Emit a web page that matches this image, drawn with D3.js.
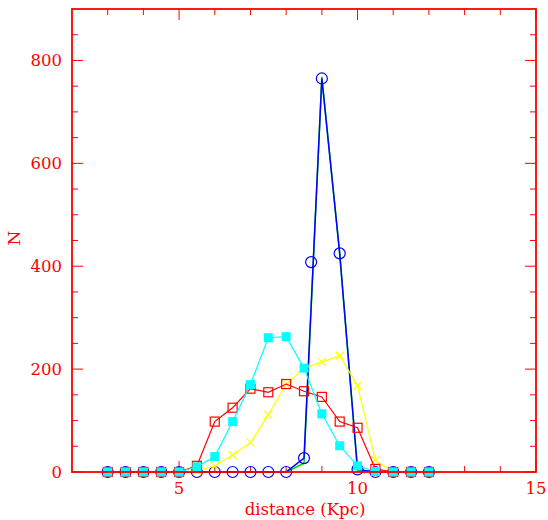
<!DOCTYPE html>
<html>
<head>
<meta charset="utf-8">
<script src="https://cdn.jsdelivr.net/npm/d3@7"></script>
<style>
  html, body { margin: 0; padding: 0; background: #fff; }
  svg { display: block; }
</style>
</head>
<body>
<svg id="chart" width="548" height="520"></svg>
<script>
// ---- data ----
const distances = [3, 3.5, 4, 4.5, 5, 5.5, 6, 6.5, 7, 7.5, 8, 8.5, 9, 9.5, 10, 10.5, 11, 11.5, 12];
const nRed    = [0, 0, 0, 0, 0, 12, 98, 125, 162, 155, 171, 157, 146, 98, 86, 6, 0, 0, 0];
const nYellow = [0, 0, 0, 0, 0, 2, 12, 33, 57, 111, 170, 202, 214, 226, 168, 23, 0, 0, 0];
const nCyan   = [0, 0, 0, 0, 0, 10, 30, 98, 170, 261, 263, 202, 113, 51, 12, 1, 0, 0, 0];
const nGreen  = [0, 0, 0, 0, 0, 0, 0, 0, 0, 0, 0, 17, 768, 425, 3, 0, 0, 0, 0];
const nBlue   = [0, 0, 0, 0, 0, 0, 0, 0, 0, 0, 0, 27, 765, 425, 5, 0, 0, 0, 0];
// blue circle markers (one extra point near the rising edge)
const xBlueMarks = [3, 3.5, 4, 4.5, 5, 5.5, 6, 6.5, 7, 7.5, 8, 8.5, 8.7, 9, 9.5, 10, 10.5, 11, 11.5, 12];
const nBlueMarks = [0, 0, 0, 0, 0, 0, 0, 0, 0, 0, 0, 27, 408, 765, 425, 5, 0, 0, 0, 0];
const xMajorTicks = [5, 10, 15];
const yMajorTicks = [0, 200, 400, 600, 800];
const xLabel = "distance (Kpc)";
const yLabel = "N";

// ---- layout ----
const svg = d3.select("#chart");
const L = 72, R = 536, T = 9, B = 472;
const x = d3.scaleLinear().domain([2, 15]).range([L, R]);
const y = d3.scaleLinear().domain([0, 900]).range([B, T]);
const axisColor = "#ff0000";
const font = "'DejaVu Serif', serif";

const g = svg.append("g");

// ticks (inward on all sides)
const xMinor = d3.range(3, 15, 1).filter(v => !xMajorTicks.includes(v));
const yMinor = d3.range(50, 900, 50).filter(v => !yMajorTicks.includes(v));
const ticks = g.append("g").attr("stroke", axisColor).attr("stroke-width", 1);
function xt(vals, len) {
  vals.forEach(v => {
    ticks.append("line").attr("x1", x(v)).attr("x2", x(v)).attr("y1", B).attr("y2", B - len);
    ticks.append("line").attr("x1", x(v)).attr("x2", x(v)).attr("y1", T).attr("y2", T + len);
  });
}
function yt(vals, len) {
  vals.forEach(v => {
    ticks.append("line").attr("y1", y(v)).attr("y2", y(v)).attr("x1", L).attr("x2", L + len);
    ticks.append("line").attr("y1", y(v)).attr("y2", y(v)).attr("x1", R).attr("x2", R - len);
  });
}
xt(xMinor, 6); xt(xMajorTicks, 11);
yt(yMinor, 6); yt(yMajorTicks, 11);

// tick labels
g.append("g").selectAll("text").data(xMajorTicks).join("text")
  .attr("x", d => x(d)).attr("y", 494)
  .attr("text-anchor", "middle")
  .attr("fill", axisColor).attr("font-family", font).attr("font-size", 16.5)
  .text(d => d);
g.append("g").selectAll("text").data(yMajorTicks).join("text")
  .attr("x", 62).attr("y", d => y(d) + 6)
  .attr("text-anchor", "end")
  .attr("fill", axisColor).attr("font-family", font).attr("font-size", 16.5)
  .text(d => d);

// axis titles
g.append("text").attr("x", 305).attr("y", 515).attr("text-anchor", "middle")
  .attr("fill", axisColor).attr("font-family", font).attr("font-size", 16.5).text(xLabel);
g.append("text").attr("transform", "translate(20,238) rotate(-90)").attr("text-anchor", "middle")
  .attr("fill", axisColor).attr("font-family", font).attr("font-size", 17).text(yLabel);

// ---- series ----
const line = d3.line().x(d => x(d[0])).y(d => y(d[1]));
const pts = (xs, ys) => xs.map((v, i) => [v, ys[i]]);

const plot = g.append("g");
// green (no markers)
plot.append("path").datum(pts(distances, nGreen)).attr("d", line)
  .attr("fill", "none").attr("stroke", "#00dd00").attr("stroke-width", 1.5);
// blue circles
plot.append("path").datum(pts(distances, nBlue)).attr("d", line)
  .attr("fill", "none").attr("stroke", "#0000ff").attr("stroke-width", 1.5);
plot.append("g").selectAll("circle").data(pts(xBlueMarks, nBlueMarks)).join("circle")
  .attr("cx", d => x(d[0])).attr("cy", d => y(d[1])).attr("r", 5.5)
  .attr("fill", "none").attr("stroke", "#0000ff").attr("stroke-width", 1.2);
// yellow crosses
plot.append("path").datum(pts(distances, nYellow)).attr("d", line)
  .attr("fill", "none").attr("stroke", "#ffff00").attr("stroke-width", 1.2);
plot.append("g").selectAll("path").data(pts(distances, nYellow)).join("path")
  .attr("d", d => { const cx = x(d[0]), cy = y(d[1]), s = 4;
    return `M${cx - s},${cy - s}L${cx + s},${cy + s}M${cx - s},${cy + s}L${cx + s},${cy - s}`; })
  .attr("stroke", "#ffff00").attr("stroke-width", 1.2);
// red open squares
plot.append("path").datum(pts(distances, nRed)).attr("d", line)
  .attr("fill", "none").attr("stroke", "#ff0000").attr("stroke-width", 1.2);
plot.append("g").selectAll("rect").data(pts(distances, nRed)).join("rect")
  .attr("x", d => x(d[0]) - 4.5).attr("y", d => y(d[1]) - 4.5).attr("width", 9).attr("height", 9)
  .attr("fill", "none").attr("stroke", "#ff0000").attr("stroke-width", 1.2);
// cyan filled squares
plot.append("path").datum(pts(distances, nCyan)).attr("d", line)
  .attr("fill", "none").attr("stroke", "#00ffff").attr("stroke-width", 1.2);
plot.append("g").selectAll("rect").data(pts(distances, nCyan)).join("rect")
  .attr("x", d => x(d[0]) - 4.5).attr("y", d => y(d[1]) - 4.5).attr("width", 9).attr("height", 9)
  .attr("fill", "#00ffff");

// frame
g.append("rect").attr("x", L).attr("y", T).attr("width", R - L).attr("height", B - T)
  .attr("fill", "none").attr("stroke", axisColor).attr("stroke-width", 1.8);
</script>
</body>
</html>
